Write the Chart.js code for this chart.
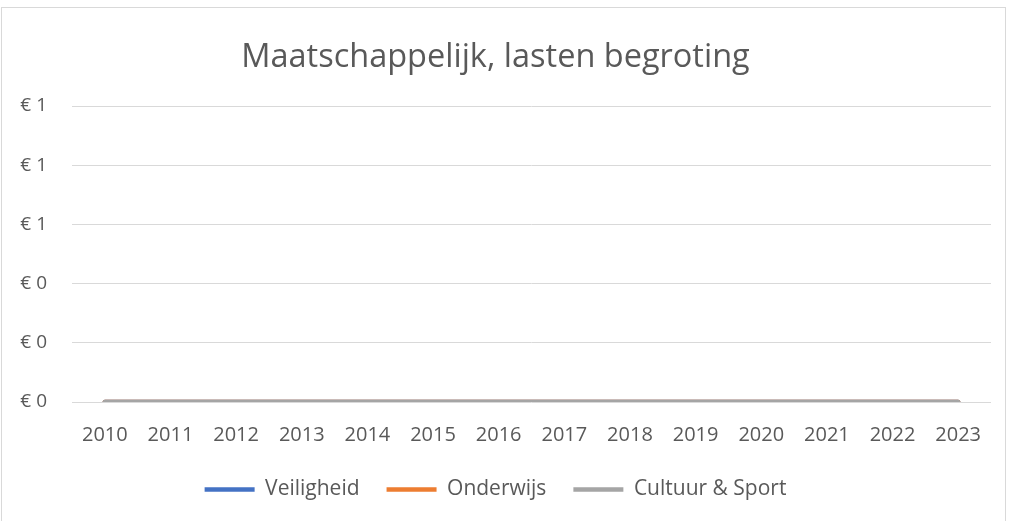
<!DOCTYPE html>
<html><head><meta charset="utf-8">
<script src="https://cdn.jsdelivr.net/npm/chart.js@4.4.1/dist/chart.umd.min.js"></script>
<style>
html,body{margin:0;padding:0;background:#fff;width:1013px;height:521px;overflow:hidden}
#frame{position:absolute;left:1px;top:7px;width:1005px;height:520px;border:1px solid #d9d9d9;box-sizing:border-box}
#wrap{position:absolute;left:0;top:0;width:1013px;height:521px}
</style></head>
<body>
<div id="frame"></div>
<div id="wrap"><canvas id="c" width="1013" height="521"></canvas></div>
<script>
const years = ['2010','2011','2012','2013','2014','2015','2016','2017','2018','2019','2020','2021','2022','2023'];
const veiligheid = [0,0,0,0,0,0,0,0,0,0,0,0,0,0];
const onderwijs = [0,0,0,0,0,0,0,0,0,0,0,0,0,0];
const cultuurSport = [0,0,0,0,0,0,0,0,0,0,0,0,0,0];
const yTicks = [0,0.2,0.4,0.6,0.8,1];
const seriesNames = ['Veiligheid','Onderwijs','Cultuur & Sport'];
const colors = ['#4472C4','#ED7D31','#A5A5A5'];

const FONT = "'Open Sans', sans-serif";
const TXT = '#595959';
const mk = (i, data, order) => ({
  label: seriesNames[i], data, borderColor: colors[i], backgroundColor: colors[i],
  borderWidth: 4.5, borderCapStyle: 'round', borderJoinStyle: 'round',
  pointRadius: 0, pointHoverRadius: 0, pointStyle: 'line', tension: 0, order
});
new Chart(document.getElementById('c'), {
  type: 'line',
  data: { labels: years, datasets: [mk(0, veiligheid, 2), mk(1, onderwijs, 1), mk(2, cultuurSport, 0)] },
  options: {
    responsive: false, animation: false, devicePixelRatio: 1,
    layout: { padding: { left: 0, right: 22, top: 0, bottom: 11 } },
    plugins: {
      title: { display: true, text: 'Maatschappelijk, lasten begroting', color: TXT,
        font: { family: FONT, size: 32.5, weight: 'normal' }, padding: { top: 38, bottom: 29 } },
      legend: { position: 'bottom', labels: { usePointStyle: true, pointStyleWidth: 50, boxHeight: 5,
        color: TXT, font: { family: FONT, size: 21 }, padding: 27,
        sort: (a, b) => a.datasetIndex - b.datasetIndex } },
      tooltip: { enabled: false }
    },
    scales: {
      x: { offset: true, grid: { display: false, drawTicks: false }, border: { display: false },
        afterFit: s => { s.height = 50; },
        ticks: { color: TXT, font: { family: FONT, size: 20 }, padding: 21, maxRotation: 0, autoSkip: false } },
      y: { min: 0, max: 1, afterBuildTicks: s => { s.ticks = yTicks.map(v => ({ value: v })); },
        afterFit: s => { s.width = 72; },
        grid: { color: '#d9d9d9', lineWidth: 1, drawTicks: false }, border: { display: false },
        ticks: { color: TXT, font: { family: FONT, size: 19 }, padding: 25,
          callback: v => '€ ' + Math.round(v) } }
    }
  }
});
</script>
</body></html>
